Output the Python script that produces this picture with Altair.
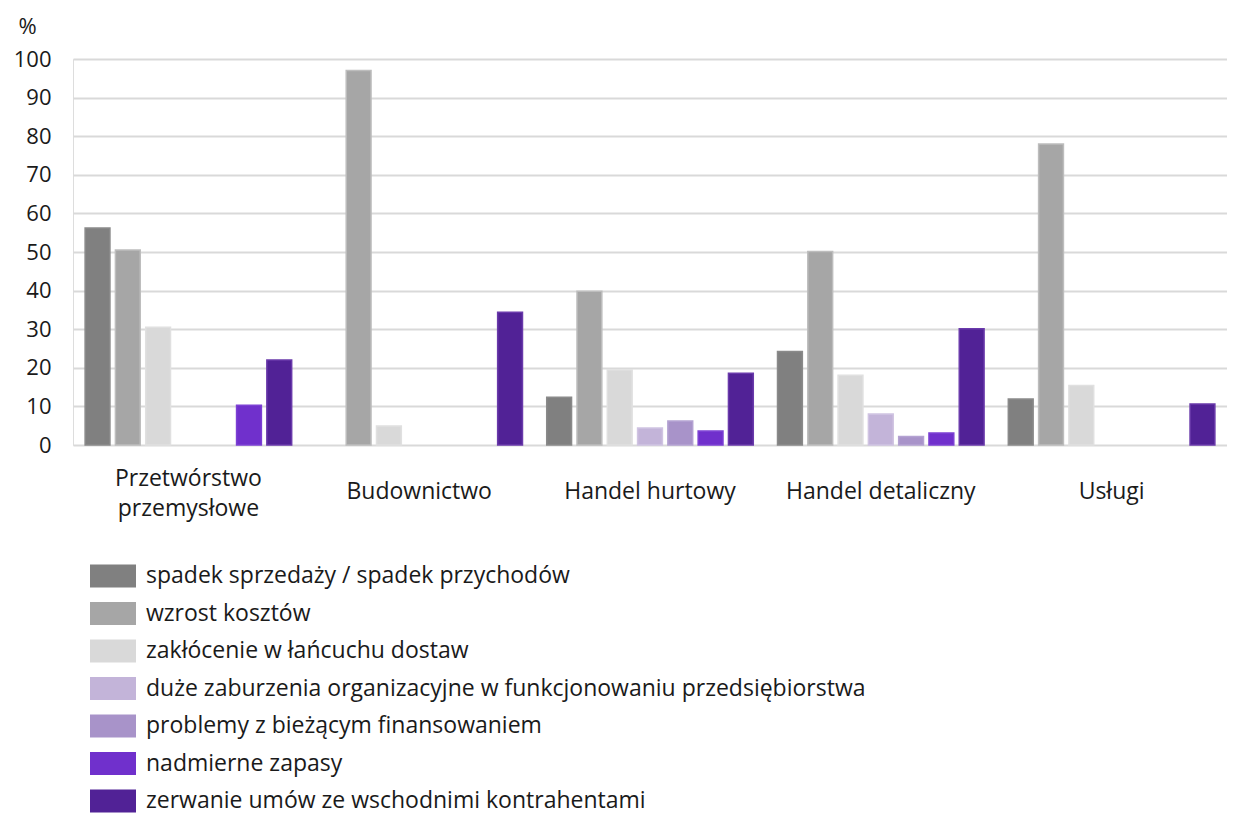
import altair as alt
import pandas as pd

categories = ["Przetwórstwo przemysłowe", "Budownictwo", "Handel hurtowy", "Handel detaliczny", "Usługi"]
series = [
    "spadek sprzedaży / spadek przychodów",
    "wzrost kosztów",
    "zakłócenie w łańcuchu dostaw",
    "duże zaburzenia organizacyjne w funkcjonowaniu przedsiębiorstwa",
    "problemy z bieżącym finansowaniem",
    "nadmierne zapasy",
    "zerwanie umów ze wschodnimi kontrahentami",
]
spadek_sprzedazy = [56.2, 0, 12.4, 24.2, 11.9]
wzrost_kosztow = [50.5, 97.0, 39.8, 50.1, 78.0]
zaklocenie = [30.5, 4.9, 19.4, 18.1, 15.4]
zaburzenia = [0, 0, 4.4, 8.0, 0]
finansowanie = [0, 0, 6.2, 2.2, 0]
zapasy = [10.3, 0, 3.6, 3.1, 0]
zerwanie = [22.0, 34.4, 18.6, 30.1, 10.6]
values = [spadek_sprzedazy, wzrost_kosztow, zaklocenie, zaburzenia, finansowanie, zapasy, zerwanie]

colors = ["#808080", "#a6a6a6", "#d9d9d9", "#c3b4d9", "#a893c9", "#7030cc", "#512296"]
strokes = ["#8a8a8a", "#bdbdbd", "#e0e0e0", "#d0c4e2", "#b4a2d2", "#7c40d4", "#6a3aab"]

rows = []
for s, vals in zip(series, values):
    for c, v in zip(categories, vals):
        rows.append({"kategoria": c, "seria": s, "wartosc": v})
df = pd.DataFrame(rows)

FONT = "Open Sans"
TXT = "#1a1a1a"

bars = alt.Chart(df).transform_filter("datum.wartosc > 0").mark_bar(strokeWidth=1.5).encode(
    x=alt.X("kategoria:N", sort=categories,
            scale=alt.Scale(paddingInner=0, paddingOuter=0),
            axis=alt.Axis(title=None, labelAngle=0, domain=False, ticks=False,
                          labelFont=FONT, labelFontSize=23, labelColor=TXT,
                          labelBaseline="middle", labelLimit=400,
                          labelPadding={"condition": {"test": "datum.value == 'Przetwórstwo przemysłowe'", "value": 33},
                                        "value": 46},
                          labelLineHeight=30,
                          labelExpr="datum.label == 'Przetwórstwo przemysłowe' ? ['Przetwórstwo', 'przemysłowe'] : datum.label")),
    xOffset=alt.XOffset("seria:N", sort=series,
                        scale=alt.Scale(domain=series, paddingInner=0.18, paddingOuter=0.4)),
    y=alt.Y("wartosc:Q",
            scale=alt.Scale(domain=[0, 100], nice=False),
            axis=alt.Axis(title="%", titleAngle=0, titleAlign="left", titleBaseline="middle",
                          titleX=-55, titleY=-33, titleFont=FONT, titleFontSize=22,
                          titleFontWeight="normal", titleColor=TXT,
                          values=list(range(0, 101, 10)), domain=False, ticks=False,
                          labelFont=FONT, labelFontSize=22, labelColor=TXT,
                          labelPadding=22, gridColor="#d9d9d9", gridWidth=2)),
    color=alt.Color("seria:N", sort=series,
                    scale=alt.Scale(domain=series, range=colors),
                    legend=alt.Legend(title=None, orient="none", legendX=17, legendY=108 + 386,
                                      direction="vertical", columns=1,
                                      symbolType="M-1,-0.5H1V0.5H-1Z", symbolSize=2116,
                                      symbolStrokeWidth=0, symbolOpacity=1,
                                      labelFont=FONT, labelFontSize=23, labelColor=TXT,
                                      labelOffset=10, rowPadding=2.5, labelLimit=1000)),
    stroke=alt.Stroke("seria:N", sort=series,
                      scale=alt.Scale(domain=series, range=strokes), legend=None),
).properties(width=1154, height=386)

chart = bars.configure_view(stroke=None).configure(padding={"left": 5, "top": 7, "right": 0, "bottom": 6})

chart.save("out.html", embed_options={"renderer": "svg", "actions": False})
